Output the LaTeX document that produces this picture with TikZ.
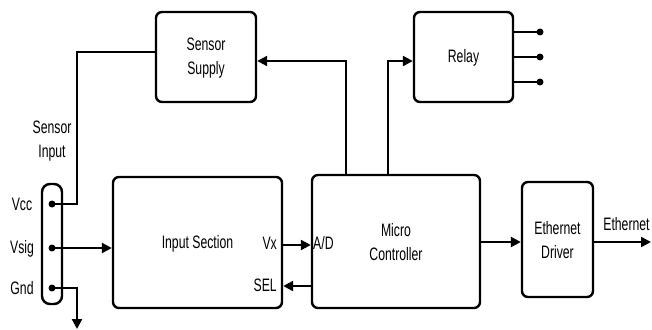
\documentclass[tikz,border=0pt]{standalone}
\usepackage{fontspec}
\setmainfont{Liberation Sans}[FakeStretch=0.68]
\usetikzlibrary{arrows.meta}
\begin{document}
\begin{tikzpicture}[x=1pt,y=-1pt,
  blk/.style={draw,line width=2.4pt,rounded corners=6pt,inner sep=0pt},
  lbl/.style={inner sep=0pt,align=center,font=\fontsize{18}{23.5}\selectfont},
  wire/.style={line width=2.3pt},
  arr/.style={wire,-{Triangle[length=10pt,width=10pt]}},
  dot/.style={circle,fill=black,inner sep=0pt,minimum size=7pt}]
\useasboundingbox (0,0) rectangle (652,329);
% blocks
\node[blk,minimum width=100pt,minimum height=90pt] (supply) at (206,57) {};
\node[blk,minimum width=99pt,minimum height=90pt] (relay) at (463.5,57) {};
\node[blk,minimum width=169pt,minimum height=131pt] (input) at (197.5,242.5) {};
\node[blk,minimum width=168pt,minimum height=133pt] (micro) at (396,241.5) {};
\node[blk,minimum width=71pt,minimum height=115pt] (eth) at (557.5,239.5) {};
\node[blk,rounded corners=8pt,minimum width=20pt,minimum height=120pt] (conn) at (52,244) {};
% block texts
\node[lbl] (tsupply) at (206,58) {Sensor\\Supply};
\node[lbl,anchor=base] (trelay) at (463.5,63) {Relay};
\node[lbl,anchor=base] (tinput) at (197.5,248) {Input Section};
\node[lbl] (tmicro) at (396,242) {Micro\\Controller};
\node[lbl] (teth) at (557.5,240) {Ethernet\\Driver};
\node[lbl,anchor=base east] (vx) at (277,249) {Vx};
\node[lbl,anchor=base east] (sel) at (277,291) {SEL};
\node[lbl,anchor=base west] (ad) at (313,249) {A/D};
\node[lbl,anchor=base] (tout) at (626.5,230) {Ethernet};
\node[lbl] (tsens) at (52,141) {Sensor\\Input};
% connector pins
\node[dot] (vcc) at (52,204) {};
\node[dot] (vsig) at (52,248) {};
\node[dot] (gnd) at (52,288) {};
\node[lbl,anchor=base] (lvcc) at (22,210.5) {Vcc};
\node[lbl,anchor=base] (lvsig) at (22,253.5) {Vsig};
\node[lbl,anchor=base] (lgnd) at (22,294.5) {Gnd};
% relay outputs
\node[dot] (r1) at (540,32) {};
\node[dot] (r2) at (540,57) {};
\node[dot] (r3) at (540,82) {};
\coordinate (gndend) at (77,329);
\coordinate (ethend) at (651,242);
% wires
\draw[wire] (vcc.center) -- (77,204) |- ([yshift=5pt]supply.west);
\draw[arr] ([xshift=-50pt]micro.north) |- ([yshift=-4pt]supply.east);
\draw[arr] ([xshift=-8pt]micro.north) |- ([yshift=-4pt]relay.west);
\draw[wire] ([yshift=25pt]relay.east) -- (r1.center);
\draw[wire] (relay.east) -- (r2.center);
\draw[wire] ([yshift=-25pt]relay.east) -- (r3.center);
\draw[arr] (vsig.center) -- (vsig -| input.west);
\draw[arr] (gnd.center) -| (gndend);
\draw[arr] (input.east |- 0,245) -- (micro.west |- 0,245);
\draw[arr] (micro.west |- 0,286) -- (input.east |- 0,286);
\draw[arr] (micro.east |- 0,242) -- (eth.west |- 0,242);
\draw[arr] (eth.east |- 0,242) -- (ethend);
\end{tikzpicture}
\end{document}
